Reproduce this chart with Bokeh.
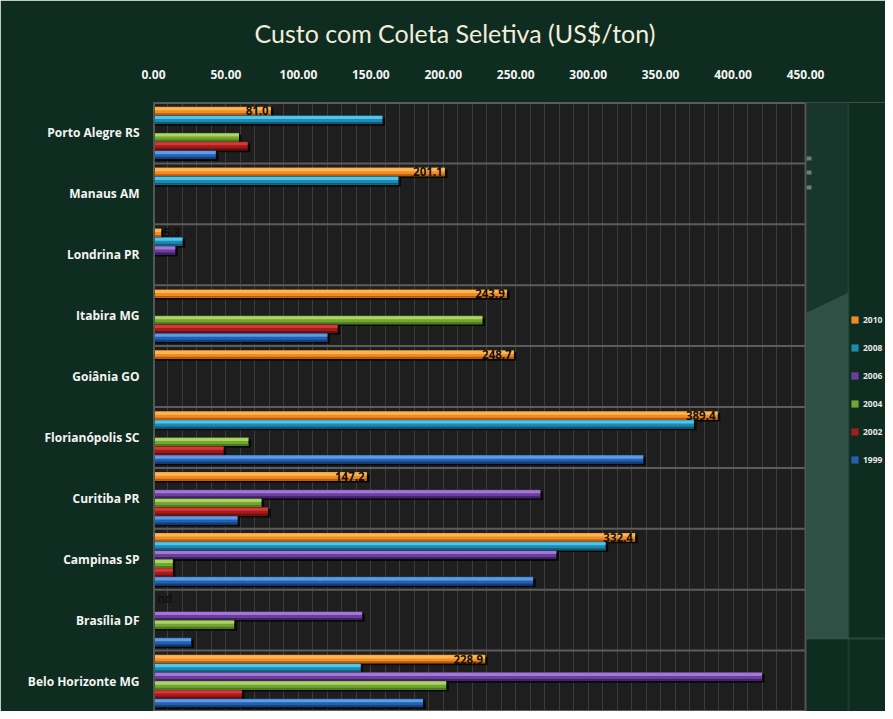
from bokeh.plotting import figure
from bokeh.models import (FactorRange, Range1d, SingleIntervalTicker, FixedTicker,
                          NumeralTickFormatter, ColumnDataSource, Legend, LegendItem,
                          BoxAnnotation, PolyAnnotation, Span)
from bokeh.transform import dodge
from bokeh.core.properties import value
from bokeh.embed import file_html
from bokeh.resources import INLINE

nan = float("nan")

# ---------------- data ----------------
cities = ["Porto Alegre RS", "Manaus AM", "Londrina PR", "Itabira MG", "Goiânia GO",
          "Florianópolis SC", "Curitiba PR", "Campinas SP", "Brasília DF", "Belo Horizonte MG"]
years = ["2010", "2008", "2006", "2004", "2002", "1999"]
v2010 = [81.0, 201.1, 5.3, 243.9, 248.7, 389.4, 147.2, 332.4, nan, 228.9]
v2008 = [158.0, 169.0, 20.0, nan, nan, 373.0, nan, 312.0, nan, 143.0]
v2006 = [nan, nan, 15.0, nan, nan, nan, 267.0, 278.0, 144.0, 420.0]
v2004 = [59.0, nan, nan, 227.0, nan, 65.5, 74.5, 13.3, 55.7, 202.0]
v2002 = [65.0, nan, nan, 127.0, nan, 48.4, 79.0, 13.3, nan, 61.0]
v1999 = [43.0, nan, nan, 120.0, nan, 338.0, 58.0, 262.0, 26.0, 186.0]
labels_2010 = ["81.0", "201.1", "5.3", "243.9", "248.7", "389.4", "147.2", "332.4", "nd", "228.9"]
tick_vals = [0, 50, 100, 150, 200, 250, 300, 350, 400, 450]
x_max = 450

series = [v2010, v2008, v2006, v2004, v2002, v1999]
main_col = ["#f28c22", "#1f8ab0", "#6b3d9e", "#73a533", "#a31b1b", "#2360b0"]
light_col = ["#fbb654", "#4cc6ee", "#a07ad2", "#acd464", "#d23a3a", "#5c9ce4"]
dark_col = ["#b85a0e", "#125a78", "#3f1f66", "#4a7a1c", "#6e0e0e", "#153d78"]

data = {"city": cities, "lab": labels_2010}
for y, s in zip(years, series):
    data["v" + y] = s
    data["s" + y] = [v + 1.8 for v in s]
data["lab_x"] = [(v - 1.5) if (v == v and v > 20) else ((v if v == v else 0) + 13) for v in v2010]
src = ColumnDataSource(data)

# ---------------- geometry ----------------
W, HGT = 885, 711
LEFT, TOPB, BOT = 153, 100, 0         # borders (figure px)
PLOT_W = 652                          # px width of the 0..450 plot area
frame_w = W - LEFT
x_end = x_max * frame_w / PLOT_W      # frame extends past the plot area (legend side)

BG = "#0f2c21"
PLOT_BG = "#1e1e1e"
p = figure(width=W, height=HGT,
           y_range=FactorRange(factors=list(reversed(cities))),
           x_range=Range1d(0, x_end),
           x_axis_location="above",
           output_backend="svg", toolbar_location=None,
           min_border_left=LEFT, min_border_right=0, min_border_top=TOPB, min_border_bottom=BOT,
           background_fill_color=PLOT_BG, border_fill_color=BG,
           outline_line_color=None)

FX, FB = LEFT, HGT - BOT  # figure coords of frame left / bottom


def sx(px):
    return px - FX


def sy(py):
    return FB - py


# ---------------- title ----------------
p.title.text = "Custo com Coleta Seletiva (US$/ton)"
p.title.align = "left"
p.title.vertical_align = "top"
p.title.offset = 101
p.title.standoff = 34
p.title.text_font = "Lato"
p.title.text_font_style = "normal"
p.title.text_font_size = "25px"
p.title.text_color = "#f3eddc"

# ---------------- axes & grid ----------------
xa = p.xaxis[0]
xa.ticker = FixedTicker(ticks=tick_vals)
xa.formatter = NumeralTickFormatter(format="0.00")
xa.major_label_text_color = "#f4f4f4"
xa.major_label_text_font = "Open Sans"
xa.major_label_text_font_style = "bold"
xa.major_label_text_font_size = "12px"
xa.major_label_standoff = 18
xa.axis_line_color = None
xa.major_tick_line_color = None
xa.minor_tick_line_color = None

ya = p.yaxis[0]
ya.major_label_text_color = "#f4f4f4"
ya.major_label_text_font = "Open Sans"
ya.major_label_text_font_style = "bold"
ya.major_label_text_font_size = "12px"
ya.major_label_standoff = 8
ya.axis_line_color = None
ya.major_tick_line_color = None

p.xgrid.ticker = SingleIntervalTicker(interval=10)
p.xgrid.grid_line_color = "#3c3c3c"
p.xgrid.grid_line_width = 1
p.ygrid.grid_line_color = None

# mask the frame part beyond the plot area (slide background + decorations)
p.add_layout(BoxAnnotation(left=x_max, fill_color=BG, fill_alpha=1, line_color=None,
                           level="underlay"))
p.add_layout(PolyAnnotation(xs=[sx(806), sx(848), sx(848), sx(806)],
                            ys=[sy(312), sy(292), sy(638), sy(638)],
                            xs_units="screen", ys_units="screen",
                            fill_color="#5e887c", line_color=None, level="underlay"))
p.add_layout(PolyAnnotation(xs=[sx(806), sx(848), sx(848), sx(806)],
                            ys=[sy(100), sy(100), sy(292), sy(312)],
                            xs_units="screen", ys_units="screen",
                            fill_color="#25473b", line_color=None, level="underlay"))
p.add_layout(BoxAnnotation(left=sx(847), right=sx(849),
                           left_units="screen", right_units="screen",
                           fill_color="#2c5646", line_color=None, level="underlay"))
p.add_layout(BoxAnnotation(left=sx(806), top=sy(637), bottom=sy(639),
                           left_units="screen", top_units="screen", bottom_units="screen",
                           fill_color="#4d6e62", line_color=None, level="underlay"))
for yy in (158, 172, 187):
    p.add_layout(BoxAnnotation(left=sx(806), right=sx(811), top=sy(yy - 2), bottom=sy(yy + 2),
                               left_units="screen", right_units="screen",
                               top_units="screen", bottom_units="screen",
                               fill_color="#e8eeea", line_color=None, level="underlay"))

# plot-area border
p.add_layout(Span(location=0, dimension="height", line_color="#555555", line_width=3))
p.add_layout(Span(location=x_max, dimension="height", line_color="#555555", line_width=2))
p.segment(x0=0, x1=x_max, y0=dodge("city", -0.5, range=p.y_range),
          y1=dodge("city", -0.5, range=p.y_range), source=src,
          line_color="#5c5c5c", line_width=2)
p.segment(x0=0, x1=x_max, y0=dodge("city", 0.5, range=p.y_range),
          y1=dodge("city", 0.5, range=p.y_range), source=ColumnDataSource({"city": cities[:1]}),
          line_color="#5c5c5c", line_width=3)
p.segment(x0=0, x1=x_max, y0=dodge("city", -0.5, range=p.y_range),
          y1=dodge("city", -0.5, range=p.y_range), source=ColumnDataSource({"city": cities[-1:]}),
          line_color="#5c5c5c", line_width=3)

# ---------------- bars ----------------
H = 0.14
PITCH = 0.144
TOP = 0.361
mains = []
for i, y in enumerate(years):
    off = TOP - PITCH * i
    p.hbar(y=dodge("city", off - 0.03, range=p.y_range), left=0, right="s" + y,
           height=H, source=src, fill_color="black", fill_alpha=0.75, line_color=None)
    r = p.hbar(y=dodge("city", off, range=p.y_range), left=0, right="v" + y,
               height=H, source=src, fill_color=main_col[i], line_color=None)
    mains.append(r)
    p.hbar(y=dodge("city", off + H * 0.26, range=p.y_range), left=0, right="v" + y,
           height=H * 0.36, source=src, fill_color=light_col[i], line_color=None)
    p.hbar(y=dodge("city", off - H * 0.38, range=p.y_range), left=0, right="v" + y,
           height=H * 0.22, source=src, fill_color=dark_col[i], line_color=None)

# value labels (2010 series)
p.text(x="lab_x", y=dodge("city", TOP, range=p.y_range), text="lab", source=src,
       text_align="right", text_baseline="middle", text_color="#111111",
       text_font=value("Open Sans"), text_font_style="bold", text_font_size="11.5px")

# ---------------- legend ----------------
legend = Legend(items=[LegendItem(label=y, renderers=[mains[i]]) for i, y in enumerate(years)],
                location=(sx(850), sy(465)),
                background_fill_alpha=0, border_line_color=None,
                padding=0, margin=0, spacing=17,
                glyph_width=9, glyph_height=9, label_height=9, label_standoff=4,
                label_text_font="Open Sans", label_text_font_style="bold",
                label_text_font_size="8.5px", label_text_color="#e8e8e8")
p.add_layout(legend)

open("out.html", "w").write(file_html(p, INLINE))
